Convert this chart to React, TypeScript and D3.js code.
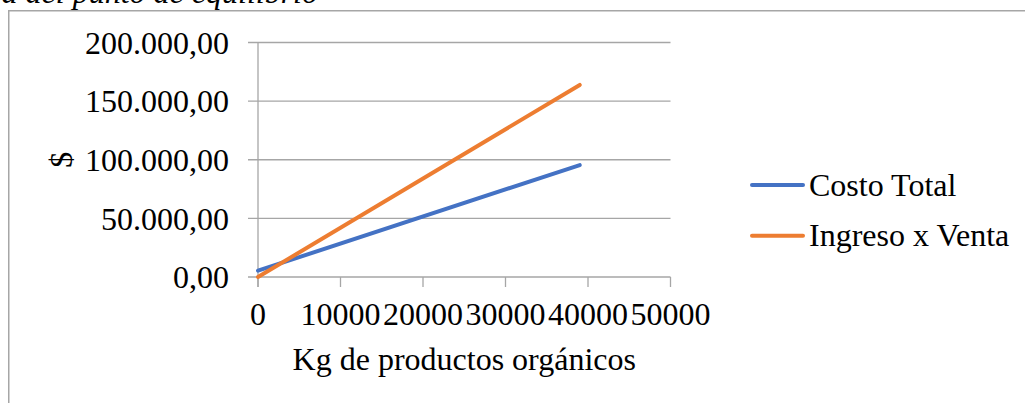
import React from "react";
import * as d3 from "d3";

const kg = [0, 39000];
const costoTotal = [5400, 95500];
const ingresoVenta = [0, 163800];
const yTicks = [0, 50000, 100000, 150000, 200000];
const xTicks = [0, 10000, 20000, 30000, 40000, 50000];
const seriesNames = ["Costo Total", "Ingreso x Venta"];
const seriesColors = ["#4472C4", "#ED7D31"];

const W = 1025;
const H = 403;
const FONT = "'Liberation Serif', 'Times New Roman', serif";
const FS = 32;

const locale = d3.formatLocale({ decimal: ",", thousands: ".", grouping: [3], currency: ["$", ""] });
const fmtY = locale.format(",.2f");

export default function App() {
  const x = d3.scaleLinear().domain([0, 50000]).range([258, 670.5]);
  const y = d3.scaleLinear().domain([0, 200000]).range([277, 42.5]);
  const line = d3
    .line<[number, number]>()
    .x((d) => x(d[0]))
    .y((d) => y(d[1]));
  const series = [costoTotal, ingresoVenta];
  const grid = "#A6A6A6";

  return (
    <svg
      width={W}
      height={H}
      style={{ position: "absolute", left: 0, top: 0, background: "#fff" }}
      fontFamily={FONT}
    >
      <rect x={0} y={0} width={W} height={H} fill="#fff" />
      <text x={318} y={3} textAnchor="end" fontSize={FS} fontStyle="italic" fill="#000">
        Gráfica del punto de equilibrio
      </text>
      <path d={`M8.75,${H + 5}V10.75H${W + 5}`} fill="none" stroke="#A6A6A6" strokeWidth={1.5} />

      {yTicks.map((t) => (
        <g key={"y" + t}>
          <line x1={248} x2={x(50000)} y1={y(t)} y2={y(t)} stroke={grid} strokeWidth={1.3} />
          <text x={229} y={y(t)} dy="0.35em" textAnchor="end" fontSize={FS} fill="#000">
            {fmtY(t)}
          </text>
        </g>
      ))}
      <line x1={x(0)} x2={x(0)} y1={y(200000)} y2={y(0) + 10} stroke={grid} strokeWidth={1.3} />
      {xTicks.map((t) => (
        <g key={"x" + t}>
          <line x1={x(t)} x2={x(t)} y1={y(0)} y2={y(0) + 10} stroke={grid} strokeWidth={1.3} />
          <text x={x(t)} y={325} textAnchor="middle" fontSize={FS} fill="#000">
            {String(t)}
          </text>
        </g>
      ))}
      <text
        transform={`translate(61,${(y(0) + y(200000)) / 2}) rotate(-90)`}
        dy="0.35em"
        textAnchor="middle"
        fontSize={FS}
        fill="#000"
      >
        $
      </text>
      <text x={(x(0) + x(50000)) / 2} y={370} textAnchor="middle" fontSize={FS} fill="#000">
        Kg de productos orgánicos
      </text>

      {series.map((s, i) => (
        <path
          key={"s" + i}
          d={line(kg.map((k, j) => [k, s[j]] as [number, number])) || ""}
          fill="none"
          stroke={seriesColors[i]}
          strokeWidth={4}
          strokeLinecap="round"
        />
      ))}

      {seriesNames.map((n, i) => (
        <g key={"l" + i} transform={`translate(0,${185 + i * 50.7})`}>
          <line x1={752} x2={803} y1={0} y2={0} stroke={seriesColors[i]} strokeWidth={4} strokeLinecap="round" />
          <text x={809} y={0} dy="0.33em" fontSize={FS} fill="#000">
            {n}
          </text>
        </g>
      ))}
    </svg>
  );
}
